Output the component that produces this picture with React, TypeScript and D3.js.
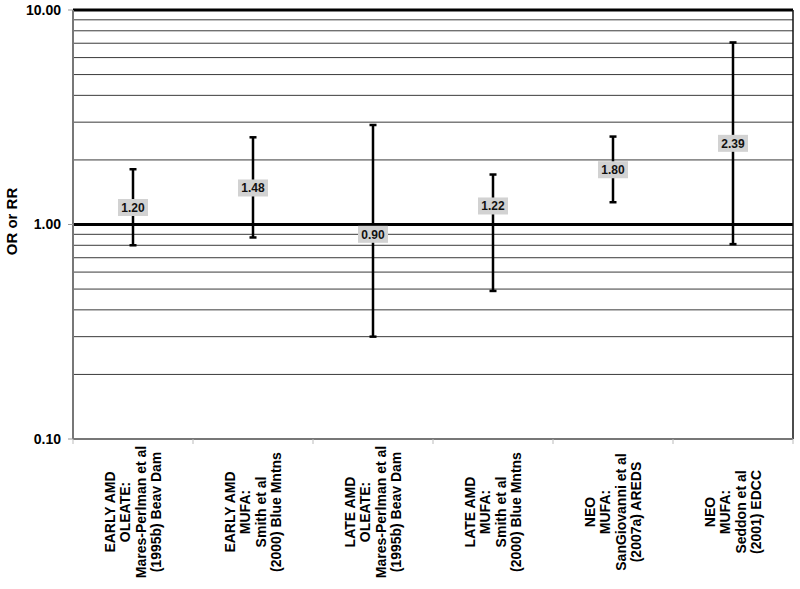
import React from 'react';
import * as d3 from 'd3';

const categories = [
  ['EARLY AMD', 'OLEATE:', 'Mares-Perlman et al', '(1995b) Beav Dam'],
  ['EARLY AMD', 'MUFA:', 'Smith et al', '(2000) Blue Mntns'],
  ['LATE AMD', 'OLEATE:', 'Mares-Perlman et al', '(1995b) Beav Dam'],
  ['LATE AMD', 'MUFA:', 'Smith et al', '(2000) Blue Mntns'],
  ['NEO', 'MUFA:', 'SanGiovanni et al', '(2007a) AREDS'],
  ['NEO', 'MUFA:', 'Seddon et al', '(2001) EDCC'],
];
const estimates = [1.2, 1.48, 0.9, 1.22, 1.8, 2.39];
const lowerCI = [0.8, 0.87, 0.3, 0.49, 1.27, 0.81];
const upperCI = [1.81, 2.55, 2.91, 1.71, 2.57, 7.06];
const yTicks = [0.1, 1, 10];

const W = 800;
const H = 589;
const margin = { top: 10, right: 7, bottom: 150, left: 73 };

export default function App() {
  const innerW = W - margin.left - margin.right;
  const innerH = H - margin.top - margin.bottom;
  const x = d3
    .scaleBand<number>()
    .domain(d3.range(categories.length))
    .range([0, innerW]);
  const y = d3.scaleLog().domain([0.1, 10]).range([innerH, 0]);

  const minorGrid = [
    ...d3.range(2, 10).map((d) => d / 10),
    ...d3.range(2, 10),
  ];
  const font = 'Arial, "Liberation Sans", sans-serif';

  return (
    <svg
      width={W}
      height={H}
      style={{ position: 'absolute', left: 0, top: 0, background: '#fff' }}
      fontFamily={font}
    >
      <g transform={`translate(${margin.left},${margin.top})`}>
        {minorGrid.map((v) => (
          <line key={v} x1={0} x2={innerW} y1={y(v)} y2={y(v)} stroke="#3a3a3a" strokeWidth={1} />
        ))}
        {[1, 10].map((v) => (
          <line key={v} x1={0} x2={innerW} y1={y(v)} y2={y(v)} stroke="#000" strokeWidth={3} />
        ))}
        {/* right border */}
        <line x1={innerW} x2={innerW} y1={0} y2={innerH} stroke="#111" strokeWidth={1.5} />
        {/* axes */}
        <line x1={0} x2={innerW} y1={innerH} y2={innerH} stroke="#777" strokeWidth={2} />
        <line x1={0} x2={0} y1={0} y2={innerH} stroke="#777" strokeWidth={2} />
        {yTicks.map((v) => (
          <g key={v} transform={`translate(0,${y(v)})`}>
            <line x1={-5} x2={0} stroke="#999" strokeWidth={1} />
            <text x={-12} dy="0.35em" textAnchor="end" fontSize={14} fontWeight="bold">
              {d3.format('.2f')(v)}
            </text>
          </g>
        ))}
        {d3.range(categories.length + 1).map((i) => (
          <line
            key={i}
            x1={i * x.bandwidth()}
            x2={i * x.bandwidth()}
            y1={innerH}
            y2={innerH + 5}
            stroke="#bbb"
            strokeWidth={1}
          />
        ))}
        {estimates.map((est, i) => {
          const cx = (x(i) ?? 0) + x.bandwidth() / 2;
          const label = d3.format('.2f')(est);
          const bw = 30;
          const bh = 17;
          return (
            <g key={i}>
              <line x1={cx} x2={cx} y1={y(upperCI[i])} y2={y(lowerCI[i])} stroke="#000" strokeWidth={2.5} />
              <line x1={cx - 3.5} x2={cx + 3.5} y1={y(upperCI[i])} y2={y(upperCI[i])} stroke="#000" strokeWidth={2.5} />
              <line x1={cx - 3.5} x2={cx + 3.5} y1={y(lowerCI[i])} y2={y(lowerCI[i])} stroke="#000" strokeWidth={2.5} />
              <rect x={cx - bw / 2} y={y(est) - bh / 2} width={bw} height={bh} fill="#d2d2d2" />
              <text x={cx} y={y(est)} dy="0.36em" textAnchor="middle" fontSize={12} fontWeight="bold" fill="#111">
                {label}
              </text>
            </g>
          );
        })}
        {categories.map((lines, i) => {
          const cx = (x(i) ?? 0) + x.bandwidth() / 2;
          const cy = innerH + 73;
          const lh = 15.5;
          return (
            <text
              key={i}
              transform={`translate(${cx},${cy}) rotate(-90)`}
              textAnchor="middle"
              fontSize={14}
              fontWeight="bold"
            >
              {lines.map((t, j) => (
                <tspan key={j} x={0} y={(j - (lines.length - 1) / 2) * lh} dy="0.35em">
                  {t}
                </tspan>
              ))}
            </text>
          );
        })}
      </g>
      <text
        transform={`translate(12,${margin.top + innerH / 2 - 3}) rotate(-90)`}
        textAnchor="middle"
        dy="0.35em"
        fontSize={15}
        fontWeight="bold"
      >
        OR or RR
      </text>
    </svg>
  );
}
